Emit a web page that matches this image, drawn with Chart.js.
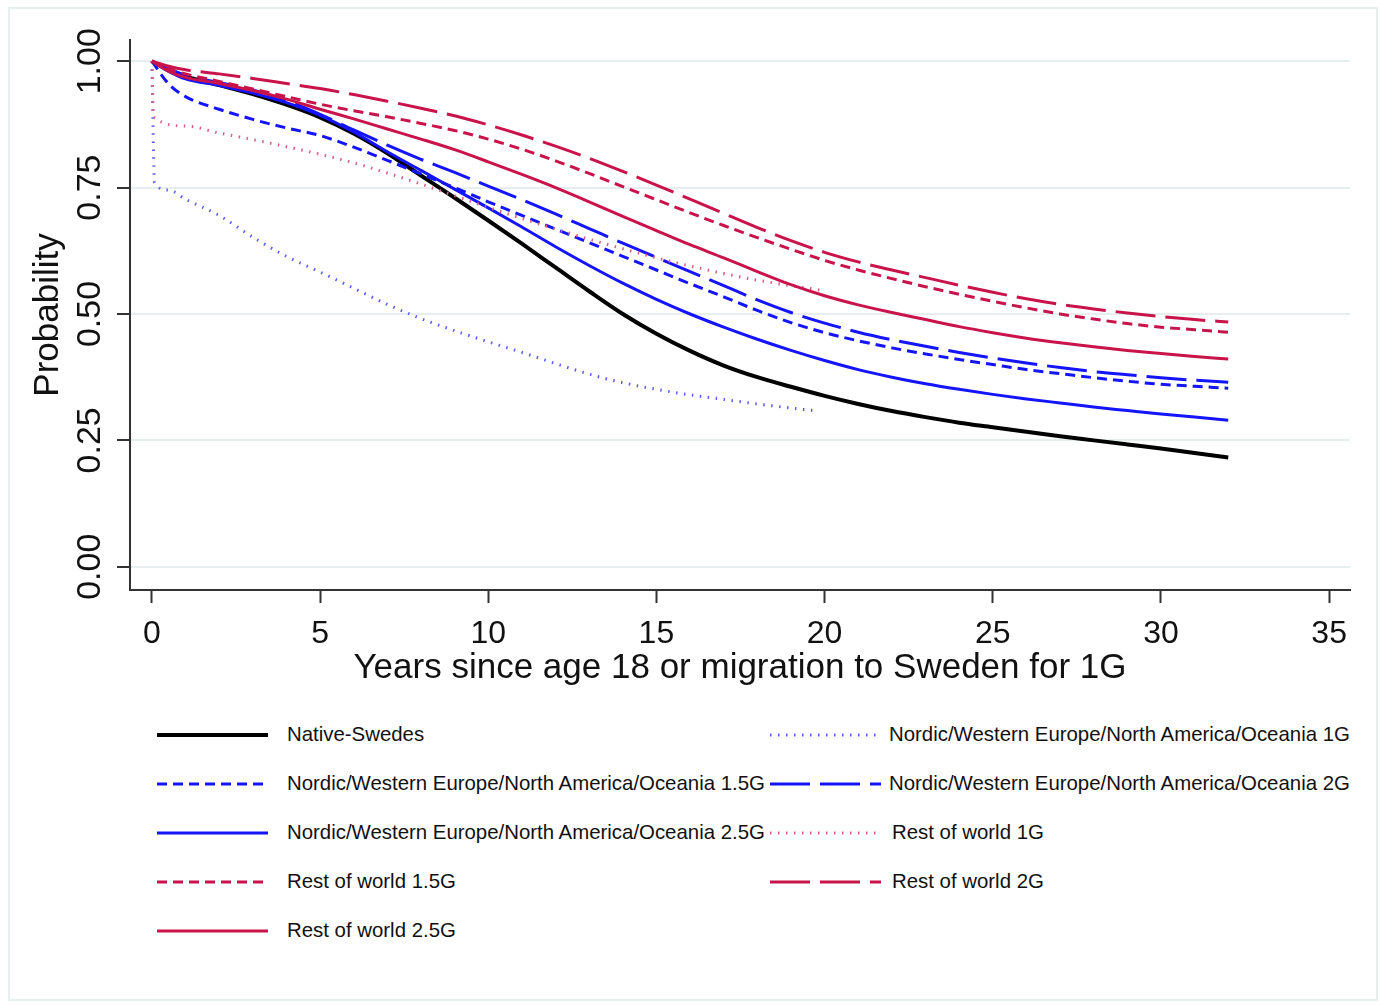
<!DOCTYPE html>
<html>
<head>
<meta charset="utf-8">
<script src="https://cdn.jsdelivr.net/npm/chart.js@4.4.1/dist/chart.umd.min.js"></script>
<style>
  body { margin: 0; background: #fff; font-family: "Liberation Sans", Arial, sans-serif; }
  #frame { position: absolute; left: 8px; top: 7px; width: 1366px; height: 990px; border: 2px solid #e8eff1; }
  #wrap { position: absolute; left: 0; top: 0; width: 1380px; height: 700px; }
  .item { position: absolute; height: 30px; font-size: 20.4px; color: #111; white-space: nowrap; }
  .item svg { position: absolute; top: 10px; }
  .item span { position: absolute; top: 3px; }
</style>
</head>
<body>
<div id="frame"></div>
<div id="wrap"><canvas id="chart" width="1380" height="700"></canvas></div>
<div id="legend"></div>
<script>
// years on the x axis
const years = [0, 0.5, 1, 2, 3, 4, 5, 6, 7, 8, 9, 10, 11, 12, 13, 14, 15, 16, 17, 18, 19, 20,
  21, 22, 23, 24, 25, 26, 27, 28, 29, 30, 31, 32];
const years1gNordic = [0, 0.08, 0.5, 1, 2, 3, 4, 5, 6, 7, 8, 9, 10, 11, 12, 13, 14, 15, 16, 17, 18, 19, 19.8];
const years1gRest = [0, 0.05, 1, 2, 3, 4, 5, 6, 7, 8, 9, 10, 11, 12, 13, 14, 15, 16, 17, 18, 19, 20];

// probabilities
const nativeSwedes = [1.0, 0.983, 0.97, 0.953, 0.935, 0.914, 0.889, 0.857, 0.818, 0.774, 0.73, 0.685,
  0.639, 0.592, 0.545, 0.5, 0.461, 0.427, 0.398, 0.375, 0.356, 0.338, 0.322, 0.308, 0.296, 0.285,
  0.276, 0.267, 0.258, 0.25, 0.242, 0.234, 0.225, 0.216];
const nordic1g = [1.0, 0.76, 0.745, 0.727, 0.695, 0.652, 0.614, 0.583, 0.551, 0.519, 0.491, 0.467, 0.445,
  0.424, 0.402, 0.381, 0.364, 0.351, 0.34, 0.331, 0.322, 0.314, 0.308];
const nordic15g = [1.0, 0.955, 0.93, 0.905, 0.885, 0.868, 0.853, 0.83, 0.804, 0.777, 0.75, 0.722, 0.695,
  0.668, 0.641, 0.614, 0.587, 0.56, 0.534, 0.507, 0.483, 0.463, 0.447, 0.433, 0.421, 0.41, 0.4,
  0.39, 0.382, 0.374, 0.367, 0.361, 0.357, 0.353];
const nordic2g = [1.0, 0.985, 0.972, 0.958, 0.943, 0.922, 0.895, 0.864, 0.834, 0.806, 0.78, 0.753, 0.726,
  0.698, 0.669, 0.64, 0.612, 0.584, 0.556, 0.528, 0.503, 0.482, 0.464, 0.449, 0.436, 0.424, 0.413,
  0.403, 0.394, 0.386, 0.38, 0.374, 0.369, 0.365];
const nordic25g = [1.0, 0.98, 0.965, 0.952, 0.937, 0.918, 0.893, 0.86, 0.821, 0.784, 0.747, 0.71, 0.672,
  0.633, 0.596, 0.561, 0.529, 0.5, 0.474, 0.45, 0.428, 0.408, 0.39, 0.375, 0.362, 0.351, 0.341,
  0.332, 0.324, 0.316, 0.309, 0.302, 0.296, 0.29];
const rest1g = [1.0, 0.89, 0.872, 0.858, 0.845, 0.831, 0.816, 0.799, 0.779, 0.757, 0.734, 0.711, 0.689,
  0.668, 0.648, 0.629, 0.611, 0.595, 0.58, 0.567, 0.556, 0.546];
const rest15g = [1.0, 0.985, 0.975, 0.96, 0.945, 0.93, 0.915, 0.902, 0.89, 0.877, 0.863, 0.846, 0.826,
  0.803, 0.778, 0.752, 0.726, 0.7, 0.675, 0.651, 0.628, 0.606, 0.587, 0.57, 0.554, 0.539, 0.525,
  0.512, 0.5, 0.49, 0.481, 0.474, 0.469, 0.464];
const rest2g = [1.0, 0.99, 0.983, 0.975, 0.966, 0.956, 0.946, 0.934, 0.921, 0.907, 0.892, 0.874, 0.854,
  0.832, 0.808, 0.782, 0.755, 0.727, 0.699, 0.671, 0.645, 0.622, 0.603, 0.587, 0.572, 0.557, 0.543,
  0.53, 0.519, 0.51, 0.502, 0.495, 0.489, 0.484];
const rest25g = [1.0, 0.98, 0.968, 0.956, 0.942, 0.925, 0.905, 0.886, 0.866, 0.846, 0.825, 0.801, 0.776,
  0.75, 0.722, 0.693, 0.665, 0.637, 0.611, 0.584, 0.558, 0.536, 0.518, 0.503, 0.489, 0.475, 0.463,
  0.452, 0.443, 0.435, 0.428, 0.422, 0.416, 0.411];

const xTicks = [0, 5, 10, 15, 20, 25, 30, 35];
const yTicks = [0, 0.25, 0.5, 0.75, 1];
const yTickLabels = ['0.00', '0.25', '0.50', '0.75', '1.00'];

const BLUE = '#1414ff';
const RED = '#c8144a';
const DOT_BLUE = '#5c5cff';
const DOT_RED = '#d95c86';

const series = [
  { label: 'Native-Swedes', x: years, y: nativeSwedes, color: '#000', width: 4, dash: [] },
  { label: 'Nordic/Western Europe/North America/Oceania 1G', x: years1gNordic, y: nordic1g, color: DOT_BLUE, width: 3, dash: [1.5, 6.5] },
  { label: 'Nordic/Western Europe/North America/Oceania 1.5G', x: years, y: nordic15g, color: BLUE, width: 3, dash: [10, 6] },
  { label: 'Nordic/Western Europe/North America/Oceania 2G', x: years, y: nordic2g, color: BLUE, width: 3, dash: [40, 10] },
  { label: 'Nordic/Western Europe/North America/Oceania 2.5G', x: years, y: nordic25g, color: BLUE, width: 3, dash: [] },
  { label: 'Rest of world 1G', x: years1gRest, y: rest1g, color: DOT_RED, width: 3, dash: [1.5, 6.5] },
  { label: 'Rest of world 1.5G', x: years, y: rest15g, color: RED, width: 3, dash: [10, 6] },
  { label: 'Rest of world 2G', x: years, y: rest2g, color: RED, width: 3, dash: [40, 10] },
  { label: 'Rest of world 2.5G', x: years, y: rest25g, color: RED, width: 3, dash: [] }
];

const FONT = '"Liberation Sans", Arial, sans-serif';

// y tick labels are rotated like the original
const rotatedYLabels = {
  id: 'rotatedYLabels',
  afterDraw(chart) {
    const ctx = chart.ctx;
    const y = chart.scales.y;
    ctx.save();
    ctx.fillStyle = '#111';
    ctx.font = '34px ' + FONT;
    ctx.textAlign = 'center';
    ctx.textBaseline = 'middle';
    yTicks.forEach((v, i) => {
      ctx.save();
      ctx.translate(91, y.getPixelForValue(v));
      ctx.rotate(-Math.PI / 2);
      ctx.fillText(yTickLabels[i], 0, 0);
      ctx.restore();
    });
    ctx.restore();
  }
};

const ctx = document.getElementById('chart').getContext('2d');
const chart = new Chart(ctx, {
  type: 'line',
  data: {
    datasets: series.map((s, i) => ({
      label: s.label,
      data: s.x.map((t, j) => ({ x: t, y: s.y[j] })),
      borderColor: s.color,
      borderWidth: s.width,
      borderDash: s.dash,
      pointRadius: 0,
      fill: false,
      cubicInterpolationMode: 'monotone',
      order: series.length - i
    }))
  },
  options: {
    responsive: false,
    animation: false,
    layout: { padding: { top: 40, right: 30, left: 0, bottom: 0 } },
    plugins: { legend: { display: false }, tooltip: { enabled: false } },
    scales: {
      x: {
        type: 'linear',
        min: -0.65,
        max: 35.62,
        afterFit(scale) { scale.height = 110; },
        afterBuildTicks(scale) { scale.ticks = xTicks.map(v => ({ value: v })); },
        grid: { drawOnChartArea: false, tickColor: '#333', tickLength: 13, tickWidth: 2 },
        border: { color: '#333', width: 2 },
        ticks: { color: '#111', font: { size: 32, family: FONT }, padding: 12, maxRotation: 0 },
        title: {
          display: true,
          text: 'Years since age 18 or migration to Sweden for 1G',
          color: '#111',
          font: { size: 35, family: FONT },
          padding: { top: 0, bottom: 11 }
        }
      },
      y: {
        type: 'linear',
        min: -0.046,
        max: 1.042,
        afterFit(scale) { scale.width = 130; },
        afterBuildTicks(scale) { scale.ticks = yTicks.map(v => ({ value: v })); },
        grid: { color: '#e6eef0', lineWidth: 2, tickColor: '#333', tickLength: 13, tickWidth: 2 },
        border: { color: '#333', width: 2 },
        ticks: { display: false },
        title: {
          display: true,
          text: 'Probability',
          color: '#111',
          font: { size: 35, family: FONT },
          padding: { top: 27, bottom: 0 }
        }
      }
    }
  },
  plugins: [rotatedYLabels]
});

// legend in two columns, drawn as html
const legendPos = [
  [157, 735, 287], [770, 735, 889],
  [157, 784, 287], [770, 784, 889],
  [157, 833, 287], [770, 833, 892],
  [157, 882, 287], [770, 882, 892],
  [157, 931, 287]
];
const legend = document.getElementById('legend');
series.forEach((s, i) => {
  const [lx, ly, tx] = legendPos[i];
  const item = document.createElement('div');
  item.className = 'item';
  item.style.left = lx + 'px';
  item.style.top = (ly - 15) + 'px';
  const w = 111;
  item.innerHTML =
    '<svg width="' + w + '" height="10" style="left:0"><line x1="0" y1="5" x2="' + w + '" y2="5" stroke="' + s.color +
    '" stroke-width="' + (i === 0 ? 4 : 3) + '" stroke-dasharray="' + (s.dash.length ? s.dash.join(',') : 'none') + '"/></svg>' +
    '<span style="left:' + (tx - lx) + 'px">' + s.label + '</span>';
  legend.appendChild(item);
});
</script>
</body>
</html>
